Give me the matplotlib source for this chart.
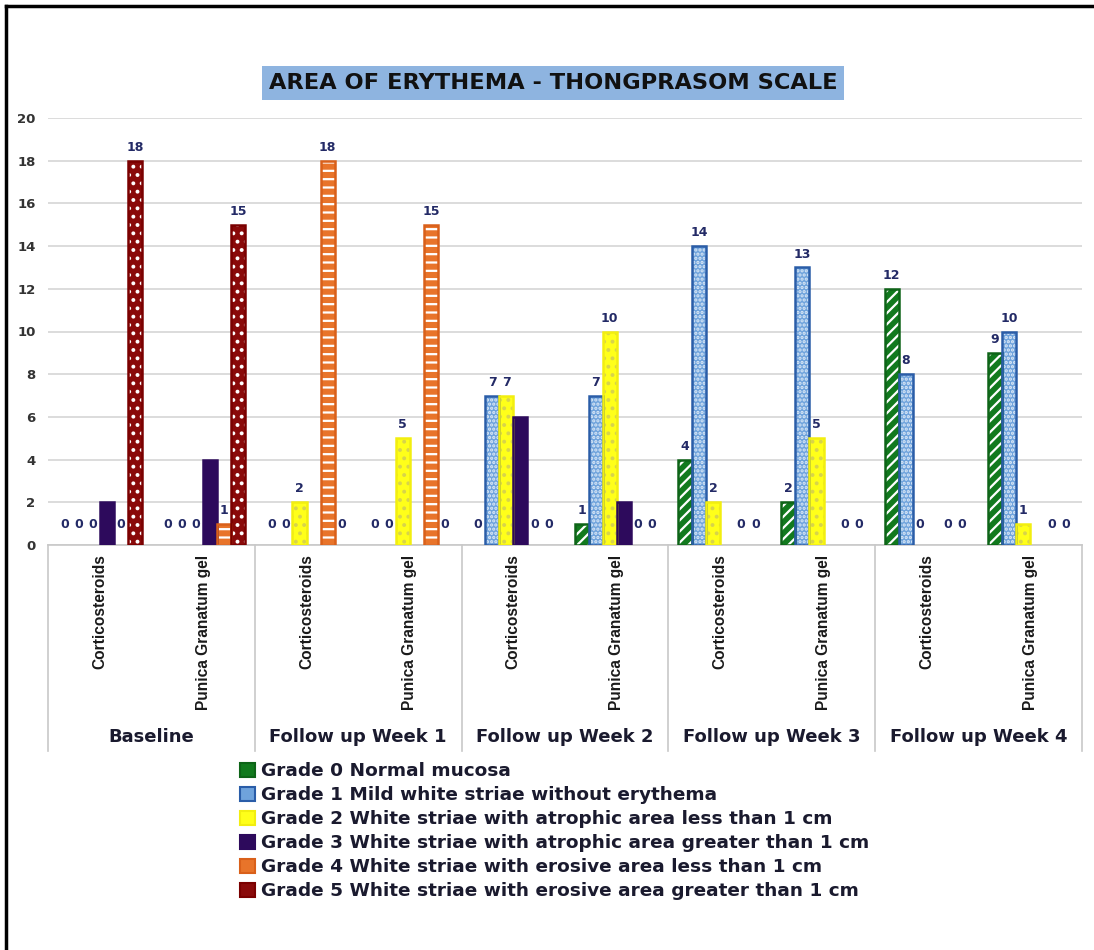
import numpy as np
import matplotlib.pyplot as plt
from matplotlib.patches import Patch
from matplotlib.lines import Line2D
import matplotlib.transforms as mtransforms

# categories
periods = ["Baseline", "Follow up Week 1", "Follow up Week 2", "Follow up Week 3", "Follow up Week 4"]
treatments = ["Corticosteroids", "Punica Granatum gel"]

grades = [
    "Grade 0 Normal mucosa",
    "Grade 1 Mild white striae without erythema",
    "Grade 2 White striae with atrophic area less than 1 cm",
    "Grade 3 White striae with atrophic area greater than 1 cm",
    "Grade 4 White striae with erosive area less than 1 cm",
    "Grade 5 White striae with erosive area greater than 1 cm",
]

# values per category: B-C, B-P, W1-C, W1-P, W2-C, W2-P, W3-C, W3-P, W4-C, W4-P
grade0 = [0, 0, 0, 0, 0, 1, 4, 2, 12, 9]
grade1 = [0, 0, 0, 0, 7, 7, 14, 13, 8, 10]
grade2 = [0, 0, 2, 5, 7, 10, 2, 5, 0, 1]
grade3 = [2, 4, 0, 0, 6, 2, 0, 0, 0, 0]
grade4 = [0, 1, 18, 15, 0, 0, 0, 0, 0, 0]
grade5 = [18, 15, 0, 0, 0, 0, 0, 0, 0, 0]
series = [grade0, grade1, grade2, grade3, grade4, grade5]

# styles: face, hatch, hatch colour, edge, show labels
styles = [
    ("#127A1E", "///", "white", "#0E6418", True),
    ("#6FA3DC", "....", "#DCE9F7", "#2A5DA8", True),
    ("#FFFF1A", "..", "#D8D44A", "#F2EE10", True),
    ("#2D0A5C", None, None, "#2D0A5C", False),
    ("#E8742A", "--", "white", "#D9601A", True),
    ("#8A0A0A", "..", "white", "#7A0000", True),
]

label_color = "#232A66"

fig = plt.figure(figsize=(10.94, 9.5), dpi=100)
ax = fig.add_axes([48 / 1094, 1 - 545 / 950, (1082 - 48) / 1094, (545 - 118) / 950])

n_cat = len(grade0)
x = np.arange(n_cat)
w = 0.136
offsets = (np.arange(6) - 2.5) * w

plt.rcParams["hatch.linewidth"] = 1.6

for i, (vals, (face, hatch, hcol, edge, show)) in enumerate(zip(series, styles)):
    xs = x + offsets[i]
    vals = np.array(vals)
    nz = vals > 0
    if hatch:
        ax.bar(xs[nz], vals[nz], w, color=face, hatch=hatch, edgecolor=hcol, linewidth=0, zorder=3)
    else:
        ax.bar(xs[nz], vals[nz], w, color=face, linewidth=0, zorder=3)
    ax.bar(xs[nz], vals[nz], w, fill=False, edgecolor=edge, linewidth=1.8, zorder=4)
    if show:
        for xv, v in zip(xs, vals):
            off = 10 if v == 0 else 5
            ax.annotate(str(v), (xv, v), xytext=(0, off), textcoords="offset points",
                        ha="center", va="bottom", fontsize=9, fontweight="bold",
                        color=label_color, zorder=5)

ax.set_xlim(-0.5, n_cat - 0.5)
ax.set_ylim(0, 20)
ax.set_yticks(np.arange(0, 21, 2))
ax.set_xticks([])
ax.tick_params(axis="y", length=0, pad=9, labelsize=9.5, labelcolor="#333333")
for lab in ax.get_yticklabels():
    lab.set_fontweight("bold")
ax.grid(axis="y", color="#D9D9D9", linewidth=1.3, zorder=0)
for s in ["left", "right", "top"]:
    ax.spines[s].set_visible(False)
ax.spines["bottom"].set_color("#C8C8C8")
ax.spines["bottom"].set_linewidth(1.2)

# multi-level category axis
trans = mtransforms.blended_transform_factory(ax.transData, ax.transAxes)
for xb in np.arange(-0.5, n_cat, 2):
    ax.add_line(Line2D([xb, xb], [0, -0.482], transform=trans, color="#C8C8C8",
                       linewidth=1.2, clip_on=False))
for i in range(n_cat):
    ax.text(i, -0.022, treatments[i % 2], transform=trans, rotation=90, ha="center", va="top",
            fontsize=11.2, fontweight="bold", family=["Liberation Sans", "DejaVu Sans"],
            color="#1A1A1A")
for j, p in enumerate(periods):
    ax.text(2 * j + 0.5, -0.45, p, transform=trans, ha="center", va="center",
            fontsize=13, fontweight="bold", color="#1A1A2E")

# title
fig.text(553 / 1094, 1 - 83 / 950, "AREA OF ERYTHEMA - THONGPRASOM SCALE", ha="center", va="center",
         fontsize=16.2, fontweight="bold", color="#111111",
         bbox=dict(boxstyle="square,pad=0.3", facecolor="#8EB4E0", edgecolor="none"))

# legend
handles = []
for (face, hatch, hcol, edge, show), g in zip(styles, grades):
    handles.append(Patch(facecolor=face, edgecolor=edge, linewidth=1.5, label=g))
leg = fig.legend(handles=handles, loc="upper left", bbox_to_anchor=(240 / 1094, 1 - 762 / 950),
                 frameon=False, handlelength=0.8, handleheight=0.8, handletextpad=0.35,
                 labelspacing=0.33, borderaxespad=0, borderpad=0, fontsize=13.3)
for t in leg.get_texts():
    t.set_fontweight("bold")
    t.set_color("#1A1A2E")

# image border (left and top only)
fig.add_artist(Line2D([6 / 1094, 6 / 1094], [0, 1 - 6 / 950], transform=fig.transFigure,
                      color="black", linewidth=2.5))
fig.add_artist(Line2D([6 / 1094, 1], [1 - 6 / 950, 1 - 6 / 950], transform=fig.transFigure,
                      color="black", linewidth=2.5))

fig.savefig("out.png", dpi=100)
